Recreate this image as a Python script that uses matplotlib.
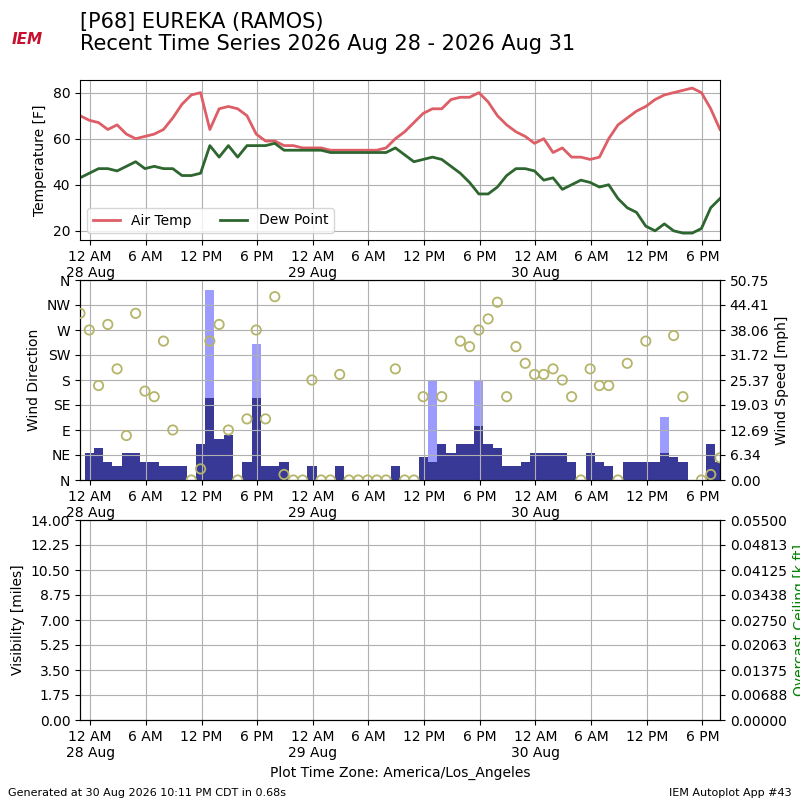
import numpy as np
import matplotlib
matplotlib.use("Agg")
import matplotlib.pyplot as plt
from datetime import datetime, timedelta

# hourly obs starting 27 Aug 22:54 local
start = datetime(2026, 8, 27, 22, 54)
times = [start + timedelta(hours=i) for i in range(70)]

tmpf = [70, 68, 67, 64, 66, 62, 60, 61, 62, 64, 69, 75, 79, 80, 64, 73, 74, 73, 70, 62,
        59, 59, 57, 57, 56, 56, 56, 55, 55, 55, 55, 55, 55, 56, 60, 63, 67, 71, 73, 73,
        77, 78, 78, 80, 76, 70, 66, 63, 61, 58, 60, 54, 56, 52, 52, 51, 52, 60, 66, 69,
        72, 74, 77, 79, 80, 81, 82, 80, 73, 64]
dwpf = [43, 45, 47, 47, 46, 48, 50, 47, 48, 47, 47, 44, 44, 45, 57, 52, 57, 52, 57, 57,
        57, 58, 55, 55, 55, 55, 55, 54, 54, 54, 54, 54, 54, 54, 56, 53, 50, 51, 52, 51,
        48, 45, 41, 36, 36, 39, 44, 47, 47, 46, 42, 43, 38, 40, 42, 41, 39, 40, 34, 30,
        28, 22, 20, 23, 20, 19, 19, 21, 30, 34]
sknt = [0, 6.8, 8.0, 4.6, 3.6, 6.8, 6.8, 4.6, 4.6, 3.6, 3.6, 3.6, 0, 9.1, 20.8, 10.4, 11.4, 0, 4.6, 20.8,
        3.6, 3.6, 4.6, 0, 0, 3.6, 0, 0, 3.6, 0, 0, 0, 0, 0, 3.6, 0, 0, 5.9, 4.6, 9.1,
        6.8, 9.1, 9.1, 13.7, 9.1, 8.0, 3.6, 3.6, 4.6, 6.8, 6.8, 6.8, 6.8, 4.6, 0, 6.8, 4.6, 3.6, 0, 4.6,
        4.6, 4.6, 4.6, 6.8, 5.9, 4.6, 0, 0, 9.1, 4.6]
gust = {14: 48.2, 19: 34.5, 38: 25.2, 43: 25.2, 63: 16.1}
drct = [300, 270, 170, 280, 200, 80, 300, 160, 150, 250, 90, np.nan, 0, 20, 250, 280, 90, 0, 110, 270,
        110, 330, 10, 0, 0, 180, 0, 0, 190, 0, 0, 0, 0, 0, 200, 0, 0, 150, np.nan, 150,
        np.nan, 250, 240, 270, 290, 320, 150, 240, 210, 190, 190, 200, 180, 150, 0, 200, 170, 170, 0, 210,
        np.nan, 250, np.nan, np.nan, 260, 150, np.nan, 0, 10, 40]

fig = plt.figure(figsize=(8, 8), dpi=100)
fig.text(0.1, 0.985, "[P68] EUREKA (RAMOS)\nRecent Time Series 2026 Aug 28 - 2026 Aug 31",
         fontsize=15, va="top", ha="left", linespacing=1.15)
fig.text(0.015, 0.945, "IEM", color="#c8102e", fontsize=11, style="italic", fontweight="bold")
fig.text(0.01, 0.005, "Generated at 30 Aug 2026 10:11 PM CDT in 0.68s", fontsize=8)
fig.text(0.99, 0.005, "IEM Autoplot App #43", fontsize=8, ha="right")

xmin, xmax = times[0], times[-1]
ticks = [datetime(2026, 8, 28) + timedelta(hours=6 * i) for i in range(12)]
labels = []
for t in ticks:
    lab = t.strftime("%I %p").lstrip("0")
    if t.hour == 0:
        lab += "\n" + t.strftime("%d %b")
    labels.append(lab)

def setx(ax):
    ax.set_xlim(xmin, xmax)
    ax.set_xticks(ticks, labels)
    ax.grid(True)

# temperature
ax1 = fig.add_axes([0.1, 0.7, 0.8, 0.2])
ax1.plot(times, tmpf, color="#dd5e66", lw=2, label="Air Temp")
ax1.plot(times, dwpf, color="#2e6630", lw=2, label="Dew Point")
ax1.set_ylim(16, 85.5)
ax1.set_yticks([20, 40, 60, 80])
ax1.set_ylabel("Temperature [F]")
ax1.legend(loc="lower left", ncol=2)
setx(ax1)

# wind
ax2 = fig.add_axes([0.1, 0.4, 0.8, 0.25])
ax2b = ax2.twinx()
w = 1 / 24.0
top = 50.749
gx = [times[i] for i in gust]
ax2b.bar(gx, list(gust.values()), width=w, color="#9c9cff", zorder=1)
ax2b.bar(times, sknt, width=w, color="#383896", zorder=2)
ax2b.set_ylim(0, top)
ax2b.set_yticks(np.linspace(0, top, 9))
ax2b.set_yticklabels(["%.2f" % v for v in np.linspace(0, top, 9)])
ax2b.set_ylabel("Wind Speed [mph]")
ax2.set_zorder(ax2b.get_zorder() + 1)
ax2.patch.set_visible(False)
ax2.scatter(times, drct, facecolor="none", edgecolor="#b5b56a", s=45, lw=1.3, zorder=5)
ax2.set_ylim(0, 360)
ax2.set_yticks(range(0, 361, 45), ["N", "NE", "E", "SE", "S", "SW", "W", "NW", "N"])
ax2.set_ylabel("Wind Direction")
setx(ax2)

# visibility / ceiling
ax3 = fig.add_axes([0.1, 0.1, 0.8, 0.25])
ax3.set_ylim(0, 14)
ax3.set_yticks(np.arange(0, 14.01, 1.75), ["%.2f" % v for v in np.arange(0, 14.01, 1.75)])
ax3.set_ylabel("Visibility [miles]")
setx(ax3)
ax3.set_xlabel("Plot Time Zone: America/Los_Angeles")
ax3b = ax3.twinx()
ax3b.set_ylim(0, 0.055)
ax3b.set_yticks(np.linspace(0, 0.055, 9), ["%.5f" % v for v in np.linspace(0, 0.055, 9)])
ax3b.set_ylabel("Overcast Ceiling [k ft]", color="green")

fig.savefig("out.png")
